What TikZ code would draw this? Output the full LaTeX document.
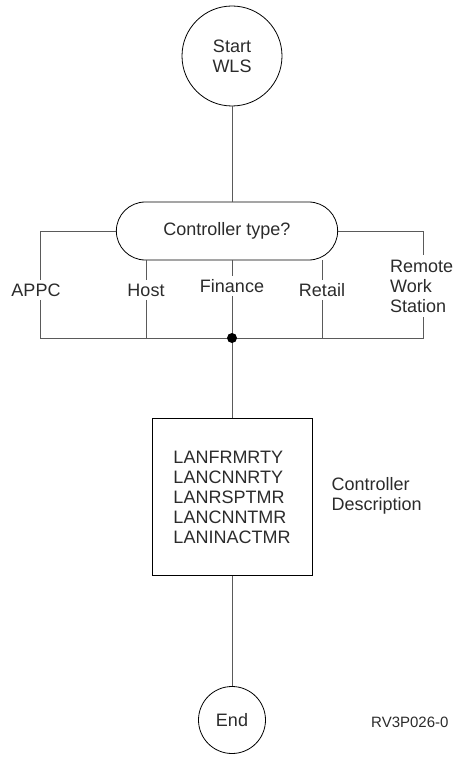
\documentclass[tikz,border=0pt]{standalone}
\usepackage{fontspec}
\setmainfont{Liberation Sans}
\usetikzlibrary{shapes.misc}
\definecolor{txtgray}{HTML}{2B2B2B}
\definecolor{wiregray}{HTML}{5A5A5A}

\begin{document}
\begin{tikzpicture}[x=1pt,y=-1pt,
  every node/.style={text=txtgray,font=\fontsize{18}{20}\selectfont},
  shapebox/.style={draw=black,line width=.8pt},
  wire/.style={draw=wiregray,line width=.8pt}]
\useasboundingbox (0,0) rectangle (454,757);
\node[shapebox,circle,minimum size=100pt,align=center] (start) at (232,56) {Start\\WLS};
\node[shapebox,rounded rectangle,minimum width=228pt,minimum height=58pt] (ctype) at (227,231) {Controller type?};
% branch labels
\node (appc) at (36,290) {APPC};
\node (host) at (146,290) {Host};
\node (fin) at (232,286) {Finance};
\node (retail) at (322,290) {Retail};
\node[align=left,anchor=west,inner sep=5pt] (remote) at (385,286) {Remote\\Work\\Station};
\coordinate (lbar) at (40,338);
\coordinate (rbar) at (423,338);
\coordinate (join) at (232,338);
\node[shapebox,minimum width=160pt,minimum height=157pt,align=left] (desc) at (232,497) {LANFRMRTY\\LANCNNRTY\\LANRSPTMR\\LANCNNTMR\\LANINACTMR};
\node[align=left,anchor=west] (descnote) at (328,496) {Controller\\Description};
\node[shapebox,circle,minimum size=67pt] (stop) at (232,720) {End};
\node[anchor=east,font=\fontsize{15}{18}\selectfont] (fig) at (452,722) {RV3P026-0};
% connectors
\draw[wire] (start) -- (start |- ctype.north);
\draw[wire] (ctype.west) -| (lbar |- appc.north);
\draw[wire] (lbar |- appc.south) -- (lbar) -- (rbar) -- (rbar |- remote.south);
\draw[wire] (ctype.east) -| (rbar |- remote.north);
\foreach \b in {host,fin,retail} {
  \draw[wire] (\b |- ctype.south) -- (\b.north);
  \draw[wire] (\b.south) -- (\b |- join);
}
\draw[wire] (join) -- (desc.north);
\draw[wire] (desc) -- (stop);
\fill[black] (join) circle (5pt);
\end{tikzpicture}
\end{document}
